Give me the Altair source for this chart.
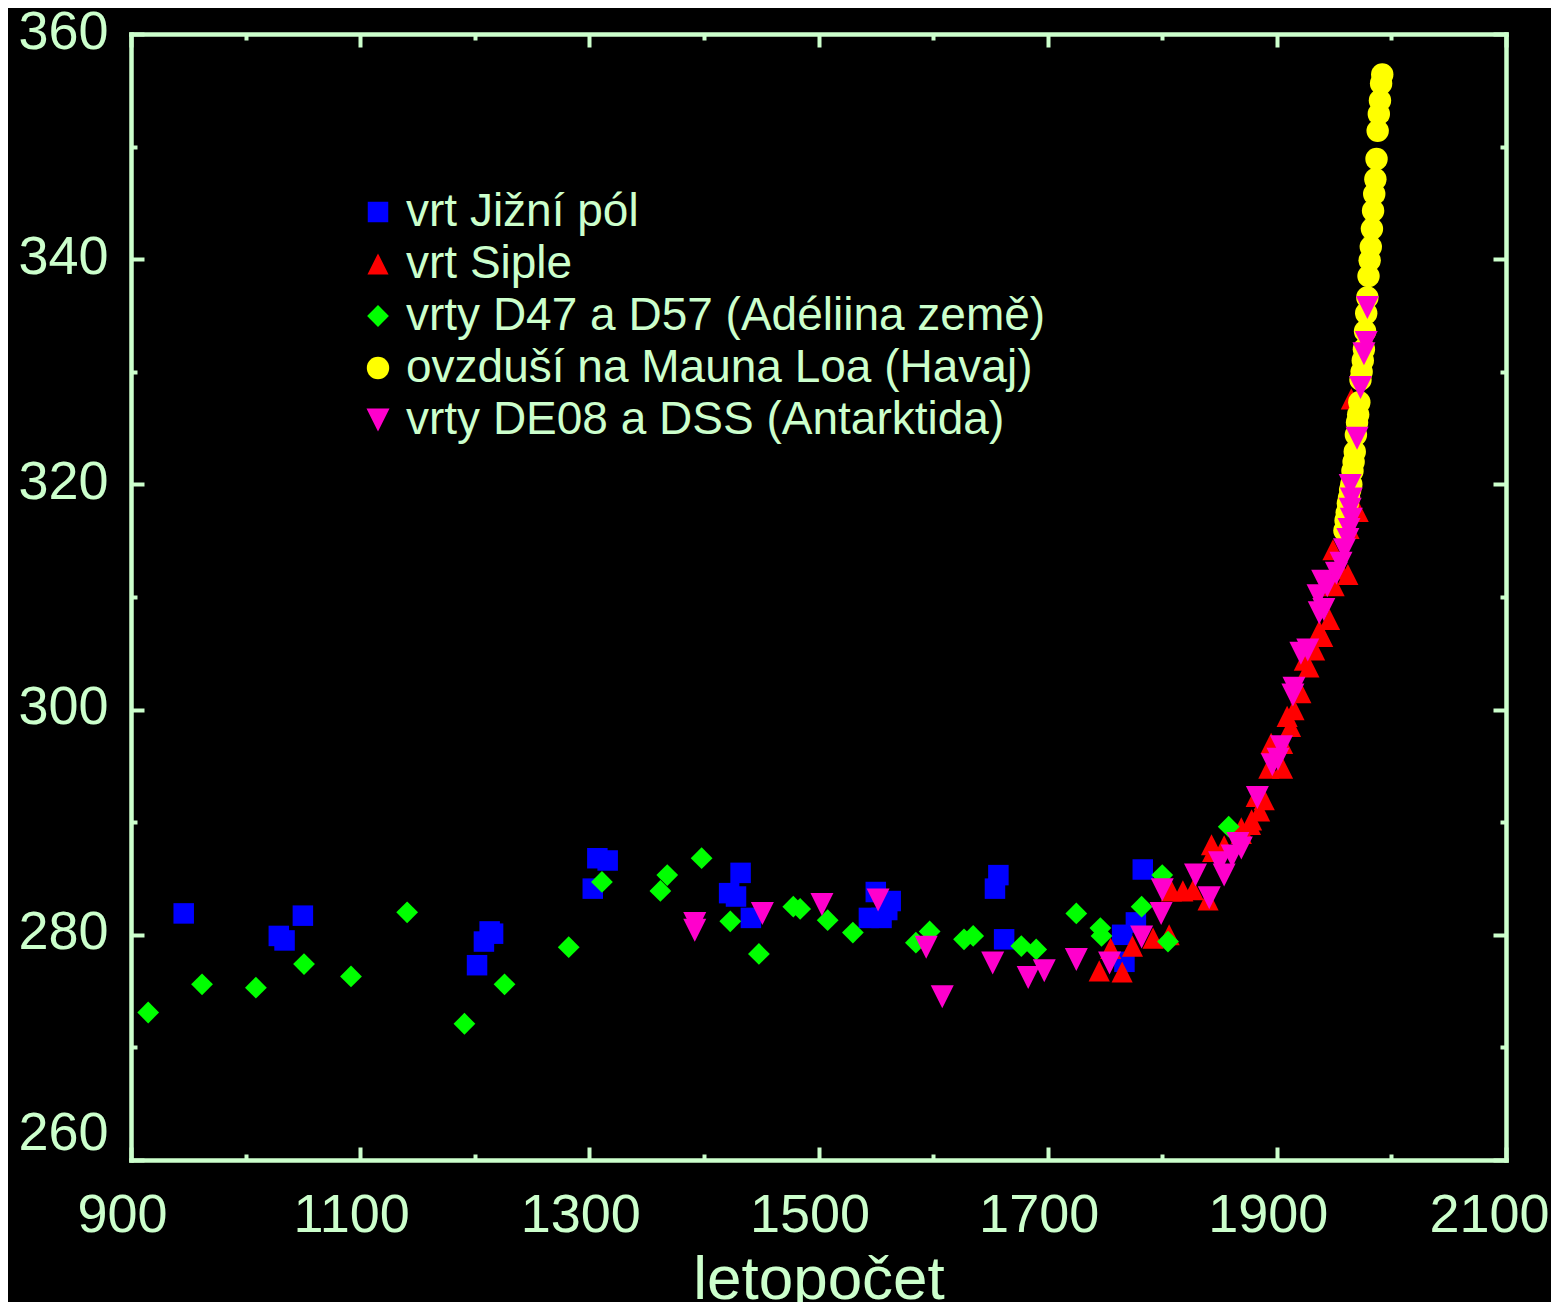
import altair as alt
import pandas as pd

# ---------------- data ----------------
series_names = [
    "vrt Jižní pól",
    "vrt Siple",
    "vrty D47 a D57 (Adéliina země)",
    "ovzduší na Mauna Loa (Havaj)",
    "vrty DE08 a DSS (Antarktida)",
]
series_colors = ["#0000FF", "#FF0000", "#00FF00", "#FFFF00", "#FF00CC"]
series_shapes = ["square", "M0,-1L1,1L-1,1Z", "diamond", "circle", "M-1,-1L1,-1L0,1Z"]
series_sizes = [420, 529, 576, 400, 441]

# vrt Jižní pól (blue squares)
jp_year = [946, 1029, 1034, 1050, 1202, 1208, 1213, 1216, 1303, 1307, 1316,
           1422, 1428, 1432, 1441, 1544, 1550, 1555, 1560, 1563, 1654, 1657,
           1662, 1765, 1767, 1777, 1783]
jp_co2 = [281.9, 279.9, 279.5, 281.7, 277.3, 279.4, 280.3, 280.1, 284.1, 286.8, 286.6,
          283.7, 283.4, 285.5, 281.5, 281.5, 283.8, 281.5, 282.2, 283.0, 284.1, 285.3,
          279.6, 280.0, 277.6, 281.1, 285.8]

# vrt Siple (red triangles up)
si_year = [1745, 1755, 1765, 1774, 1792, 1806, 1808, 1818, 1827, 1840, 1844, 1854,
           1843, 1869, 1869, 1877, 1878, 1882, 1885, 1889, 1893, 1905, 1895, 1905,
           1909, 1912, 1915, 1921, 1924, 1928, 1933, 1937, 1940, 1946, 1950, 1955,
           1962, 1949, 1963, 1971, 1965]
si_co2 = [276.8, 278.8, 276.7, 279.0, 279.7, 280.0, 283.9, 283.9, 284.0, 283.1, 287.4, 287.9,
          288.0, 289.0, 289.5, 289.8, 290.2, 292.3, 291.0, 292.0, 294.8, 294.8, 297.0, 297.0,
          299.4, 298.5, 300.0, 301.5, 304.4, 303.8, 305.3, 307.0, 306.5, 308.0, 311.0, 312.5,
          312.0, 314.2, 316.1, 317.6, 327.6]

# vrty D47 a D57 (green diamonds)
ad_year = [915, 962, 1009, 1051, 1092, 1141, 1191, 1226, 1282, 1311, 1362, 1368,
           1398, 1423, 1448, 1478, 1484, 1508, 1530, 1585, 1597, 1627, 1635, 1677,
           1690, 1725, 1746, 1747, 1782, 1800, 1805, 1858]
ad_co2 = [273.1, 275.6, 275.3, 277.4, 276.3, 282.0, 272.1, 275.6, 278.9, 284.7, 283.9, 285.3,
          286.8, 281.2, 278.3, 282.5, 282.3, 281.3, 280.2, 279.3, 280.3, 279.6, 279.9, 279.0,
          278.7, 281.9, 280.6, 279.9, 282.5, 285.3, 279.4, 289.6]

# ovzduší na Mauna Loa (yellow circles)
ml_year = [1959, 1960, 1961, 1962, 1963, 1964, 1965, 1966, 1967, 1968, 1969, 1970,
           1971, 1972, 1973, 1974, 1975, 1976, 1977, 1978, 1979, 1980, 1981, 1982,
           1983, 1984, 1985, 1986, 1987, 1988, 1989, 1990, 1991, 1992]
ml_co2 = [315.9, 316.8, 317.5, 318.3, 318.8, 319.5, 320.0, 321.2, 322.0, 322.9, 324.4, 325.5,
          326.2, 327.3, 329.3, 330.0, 331.0, 332.0, 333.6, 335.2, 336.6, 338.5, 339.9, 341.1,
          342.7, 344.3, 345.8, 347.1, 348.9, 351.4, 352.9, 354.1, 355.6, 356.4]

# vrty DE08 a DSS (magenta triangles down)
de_year = [1392, 1392, 1451, 1503, 1552, 1594, 1608, 1652, 1683, 1697, 1725, 1754,
           1782, 1799, 1800, 1829, 1841, 1850, 1854, 1861, 1869, 1866, 1883, 1896,
           1901, 1904, 1914, 1915, 1921, 1927, 1937, 1941, 1936, 1940, 1944, 1952,
           1956, 1959, 1962, 1963, 1965, 1964, 1965, 1964, 1970, 1973, 1976, 1978, 1979]
de_co2 = [281.0, 280.4, 281.9, 282.7, 283.1, 278.9, 274.5, 277.5, 276.2, 276.8, 277.8, 277.5,
          279.8, 281.9, 284.0, 285.3, 283.3, 286.4, 285.3, 287.0, 287.7, 288.1, 292.2, 295.1,
          295.6, 296.7, 301.3, 301.9, 305.0, 305.3, 308.6, 308.9, 310.1, 311.4, 311.0, 312.1,
          313.0, 314.2, 315.1, 316.0, 316.9, 317.8, 318.7, 319.9, 324.1, 328.6, 331.6, 332.6, 335.7]

x_ticks = list(range(900, 2101, 100))
y_ticks = list(range(260, 361, 10))

# ---------------- build table ----------------
rows = []
for name, xs, ys in zip(series_names,
                        [jp_year, si_year, ad_year, ml_year, de_year],
                        [jp_co2, si_co2, ad_co2, ml_co2, de_co2]):
    for xv, yv in zip(xs, ys):
        rows.append({"rok": xv, "co2": yv, "serie": name})
df = pd.DataFrame(rows)

FONT = "Liberation Sans"
AX = "#CCFFCC"

x_major = "datum.value % 200 == 100"
y_major = "datum.value % 20 == 0"

legend = alt.Legend(
    title=None, orient="none", legendX=224, legendY=155,
    labelFont=FONT, labelFontSize=46, labelColor=AX, labelLimit=2000,
    labelOffset=5, rowPadding=6, padding=0, symbolStrokeWidth=0,
    symbolOpacity=1,
)

color = alt.Color("serie:N", scale=alt.Scale(domain=series_names, range=series_colors), legend=legend)
shape = alt.Shape("serie:N", scale=alt.Scale(domain=series_names, range=series_shapes), legend=legend)
size = alt.Size("serie:N", scale=alt.Scale(domain=series_names, range=series_sizes), legend=legend)

xscale = alt.Scale(domain=[900, 2100], nice=False, zero=False)
yscale = alt.Scale(domain=[260, 360], nice=False, zero=False)

common_axis = dict(
    tickColor=AX, tickWidth=4, domainColor=AX, domainWidth=4.5, domainCap="square",
    grid=False, labelFont=FONT, labelColor=AX, labelFontSize=54, labelOverlap=False,
    labelFlush=False,
)

x_bottom = alt.Axis(
    orient="bottom", values=x_ticks, format="d",
    labelExpr=f"{x_major} ? datum.label : ''",
    tickSize={"condition": {"test": x_major, "value": -13}, "value": -6},
    labelPadding=41,
    labelOffset={"condition": {"test": "datum.value == 2100", "value": -17}, "value": -9},
    title="letopočet", titleFont=FONT, titleFontSize=62, titleColor=AX,
    titleFontWeight="normal", titlePadding=0,
    **common_axis,
)
y_left = alt.Axis(
    orient="left", values=y_ticks, format="d",
    labelExpr=f"{y_major} ? datum.label : ''",
    tickSize={"condition": {"test": y_major, "value": -13}, "value": -6},
    labelPadding=36,
    labelOffset={"condition": {"test": "datum.value == 260", "value": -27}, "value": -2},
    title=None,
    **common_axis,
)
x_top = alt.Axis(
    orient="top", values=x_ticks, labels=False, title=None,
    tickSize={"condition": {"test": x_major, "value": -13}, "value": -6},
    **common_axis,
)
y_right = alt.Axis(
    orient="right", values=y_ticks, labels=False, title=None,
    tickSize={"condition": {"test": y_major, "value": -13}, "value": -6},
    **common_axis,
)

points = alt.Chart(df).mark_point(filled=True, opacity=1, strokeWidth=0).encode(
    x=alt.X("rok:Q", scale=xscale, axis=x_bottom),
    y=alt.Y("co2:Q", scale=yscale, axis=y_left),
    color=color, shape=shape, size=size,
)

frame = alt.Chart(df).mark_point(opacity=0).encode(
    x=alt.X("rok:Q", scale=xscale, axis=x_top),
    y=alt.Y("co2:Q", scale=yscale, axis=y_right),
)

chart = alt.layer(frame, points).resolve_axis(
    x="independent", y="independent"
).properties(
    width=1375, height=1126,
    autosize=alt.AutoSizeParams(type="none"),
    padding={"left": 123, "top": 26, "right": 45, "bottom": 142},
    title=alt.TitleParams(
        text="Koncentrace CO₂ v ovzduší (ppmv)", fontSize=96, color="white",
        font=FONT, fontWeight="normal", baseline="alphabetic", offset=28, anchor="middle",
    ),
).configure(background="black").configure_view(strokeWidth=0)

chart.save("out.html", embed_options={"renderer": "svg", "actions": False})
